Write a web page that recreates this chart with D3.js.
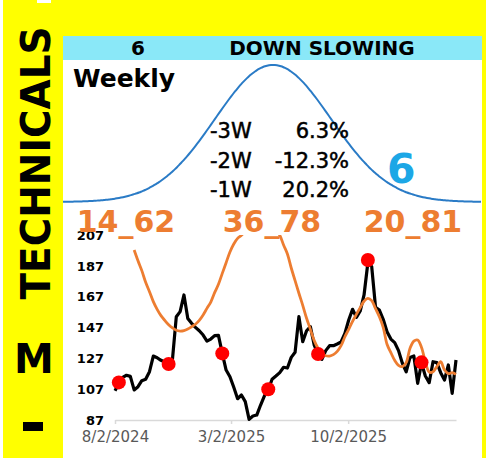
<!DOCTYPE html>
<html>
<head>
<meta charset="utf-8">
<script src="https://cdn.jsdelivr.net/npm/d3@7"></script>
<style>
  html, body { margin: 0; padding: 0; background: #ffff00; }
  svg { display: block; }
  text { font-family: "DejaVu Sans", Verdana, sans-serif; }
</style>
</head>
<body>
<svg id="chart" width="486" height="458"></svg>
<script>
// ---------------- DATA ----------------
const startDate = "2024-08-02";          // first weekly observation
const weekCount = 90;                     // weekly points
const priceValues = [
  106.0, 110.6, 114.7, 116.0, 115.3, 106.5, 108.6, 112.5, 113.4, 118.3,
  128.5, 127.4, 125.7, 124.6, 123.8, 126.3, 154.0, 157.3, 168.1, 152.9,
  149.7, 147.1, 144.9, 142.1, 138.2, 139.5, 141.7, 141.9, 130.2, 119.4,
  115.1, 108.2, 100.8, 103.2, 98.9, 87.4, 89.6, 90.2, 96.7, 102.6,
  106.5, 113.4, 115.5, 117.7, 121.2, 120.7, 127.6, 130.9, 154.0, 137.8,
  144.9, 147.5, 135.6, 129.8, 126.3, 132.0, 135.2, 135.2, 136.3, 137.6,
  143.2, 151.9, 158.8, 153.6, 157.7, 168.1, 189.0, 186.5, 160.1, 158.3,
  152.3, 144.3, 139.5, 137.2, 132.0, 123.8, 118.3, 127.6, 128.5, 110.8,
  123.8, 115.5, 111.2, 124.8, 124.2, 117.7, 112.9, 122.7, 104.3, 125.9
];
// cycle fit (orange), starts at week 5
const cycleStartWeek = 5;
const cycleValues = [
  197.3, 190.3, 183.9, 176.3, 170.2, 163.8, 158.8, 154.7, 151.6, 148.8,
  146.7, 145.2, 144.7, 145.0, 146.0, 147.5, 149.1, 151.6, 155.1, 159.4,
  163.5, 169.6, 175.0, 182.1, 189.0, 196.0, 201.2, 204.8, 206.8, 209.5,
  212.0, 214.0, 215.5, 216.0, 215.5, 214.0, 212.0, 209.5, 206.8, 200.5,
  194.7, 185.6, 177.4, 169.2, 161.4, 153.0, 145.8, 138.5, 133.5, 130.2,
  128.7, 128.5, 129.4, 131.5, 135.2, 141.0, 145.8, 151.0, 155.5, 159.9,
  164.0, 165.9, 164.4, 159.2, 154.0, 147.1, 136.1, 130.7, 125.7, 122.5,
  121.6, 124.2, 133.5, 138.2, 138.9, 134.1, 124.8, 118.1, 118.3, 121.6,
  124.8, 119.4, 117.1, 117.7, 116.6
];
// red markers (turning points)
const markerWeeks  = [1, 14, 28, 40, 53, 66, 80];
const markerValues = [111.4, 123.3, 130.2, 106.9, 129.8, 190.8, 124.4];

const yTicks = [87, 107, 127, 147, 167, 187, 207];
const xTickLabels = ["8/2/2024", "3/2/2025", "10/2/2025"];

const cycleLabels = ["14_62", "36_78", "20_81"];
const headerNumber = "6";
const headerText = "DOWN SLOWING";
const periodText = "Weekly";
const changeLabels = ["-3W", "-2W", "-1W"];
const changeValues = ["6.3%", "-12.3%", "20.2%"];
const bigNumber = "6";
const sideTitle = "TECHNICALS";
const sideLetter = "M";
const bell = { mean: 273, sd: 58 };   // decorative normal curve (pixel space)

// ---------------- DRAW ----------------
const svg = d3.select("#chart");
const W = 486, H = 458;

svg.append("rect").attr("x", 0).attr("y", 0).attr("width", W).attr("height", H).attr("fill", "#ffff00");
svg.append("rect").attr("x", 0).attr("y", 0).attr("width", 3).attr("height", H).attr("fill", "#ffffff");
svg.append("rect").attr("x", 37).attr("y", 0).attr("width", 14).attr("height", 3).attr("fill", "#ffffff");
// main white panel
svg.append("rect").attr("x", 63).attr("y", 36).attr("width", 419).attr("height", H - 36).attr("fill", "#ffffff");
// header band
svg.append("rect").attr("x", 63).attr("y", 36).attr("width", 419).attr("height", 24).attr("fill", "#8ae8f8");

svg.append("text").attr("x", 138).attr("y", 55).attr("text-anchor", "middle")
  .attr("font-size", 20).attr("font-weight", "bold").attr("fill", "#000").text(headerNumber);
svg.append("text").attr("x", 322).attr("y", 55).attr("text-anchor", "middle")
  .attr("font-size", 20).attr("font-weight", "bold").attr("fill", "#000").text(headerText);

// side texts
svg.append("text").attr("transform", "translate(50,163) rotate(-90)")
  .attr("text-anchor", "middle").attr("font-size", 40).attr("font-weight", "bold")
  .attr("fill", "#000").attr("textLength", 273).attr("lengthAdjust", "spacingAndGlyphs").text(sideTitle);
svg.append("text").attr("x", 34).attr("y", 373).attr("text-anchor", "middle")
  .attr("font-size", 40).attr("font-weight", "bold").attr("fill", "#000").text(sideLetter);
svg.append("rect").attr("x", 23).attr("y", 422).attr("width", 20).attr("height", 9).attr("fill", "#000");

// bell curve
const bellX = d3.range(63, 483, 2);
const bellY = d3.scaleLinear().domain([0, 1]).range([202, 65]);
svg.append("path")
  .datum(bellX)
  .attr("fill", "none").attr("stroke", "#2a7bc6").attr("stroke-width", 2)
  .attr("d", d3.line()
    .x(d => d)
    .y(d => bellY(Math.exp(-((d - bell.mean) ** 2) / (2 * bell.sd * bell.sd))))
    .curve(d3.curveBasis));

svg.append("text").attr("x", 73).attr("y", 87).attr("font-size", 25).attr("font-weight", "bold")
  .attr("fill", "#000").text(periodText);

changeLabels.forEach((lab, i) => {
  const y = 138 + i * 29.5;
  svg.append("text").attr("x", 210).attr("y", y).attr("font-size", 21).attr("fill", "#000")
    .attr("stroke", "#000").attr("stroke-width", 0.5).text(lab);
  svg.append("text").attr("x", 349).attr("y", y).attr("text-anchor", "end").attr("font-size", 21).attr("fill", "#000")
    .attr("stroke", "#000").attr("stroke-width", 0.5).text(changeValues[i]);
});

svg.append("text").attr("x", 387).attr("y", 183).attr("font-size", 41).attr("font-weight", "bold")
  .attr("fill", "#1ca7e6").text(bigNumber);

// chart
const parseTick = d3.utcParse("%m/%d/%Y");
const t0 = d3.utcParse("%Y-%m-%d")(startDate);
const weekDate = i => d3.utcDay.offset(t0, 7 * i);
const series = priceValues.map((v, i) => ({ date: weekDate(i), value: v }));
const cycle = cycleValues.map((v, i) => ({ date: weekDate(cycleStartWeek + i), value: v }));
const markers = markerWeeks.map((w, i) => ({ date: weekDate(w), value: markerValues[i] }));

const x = d3.scaleUtc().domain([t0, weekDate(weekCount - 1)]).range([115, 456]);
const y = d3.scaleLinear().domain([87, 207]).range([420, 235]);

svg.append("defs").append("clipPath").attr("id", "plotclip")
  .append("rect").attr("x", 100).attr("y", y(207)).attr("width", 380).attr("height", y(87) - y(207) + 2);

// x axis
const xAxis = d3.axisBottom(x)
  .tickValues(xTickLabels.map(parseTick))
  .tickFormat((d, i) => xTickLabels[i])
  .tickSize(4).tickSizeOuter(0);
const gx = svg.append("g").attr("transform", `translate(0,${y(87)})`).call(xAxis);
gx.select(".domain").attr("stroke", "#d9d9d9").attr("stroke-width", 1.5);
gx.selectAll(".tick line").attr("stroke", "#d9d9d9").attr("stroke-width", 1.5);
gx.selectAll(".tick text").attr("font-family", "DejaVu Sans").attr("font-size", 15)
  .attr("fill", "#595959").attr("dy", "0").attr("y", 22);

// y axis (labels only)
const yAxis = d3.axisLeft(y).tickValues(yTicks).tickFormat(d3.format("d")).tickSize(0).tickPadding(0);
const gy = svg.append("g").attr("transform", "translate(104,0)").call(yAxis);
gy.select(".domain").remove();
gy.selectAll(".tick text").attr("font-family", "DejaVu Sans").attr("font-size", 13)
  .attr("font-weight", "bold").attr("fill", "#000");

// black price line
svg.append("path").datum(series)
  .attr("fill", "none").attr("stroke", "#000").attr("stroke-width", 3.2).attr("stroke-linejoin", "round")
  .attr("d", d3.line().x(d => x(d.date)).y(d => y(d.value)));

// orange cycle
svg.append("path").datum(cycle)
  .attr("clip-path", "url(#plotclip)")
  .attr("fill", "none").attr("stroke", "#ed7d31").attr("stroke-width", 2.8)
  .attr("d", d3.line().x(d => x(d.date)).y(d => y(d.value)).curve(d3.curveCatmullRom));

// red markers
svg.append("g").selectAll("circle").data(markers).join("circle")
  .attr("cx", d => x(d.date)).attr("cy", d => y(d.value)).attr("r", 7).attr("fill", "#ff0000");

// cycle labels
const labelX = [126, 272, 413];
cycleLabels.forEach((t, i) => {
  svg.append("text").attr("x", labelX[i]).attr("y", 232).attr("text-anchor", "middle")
    .attr("font-size", 30).attr("font-weight", "bold").attr("fill", "#ed7d31").text(t);
});
</script>
</body>
</html>
